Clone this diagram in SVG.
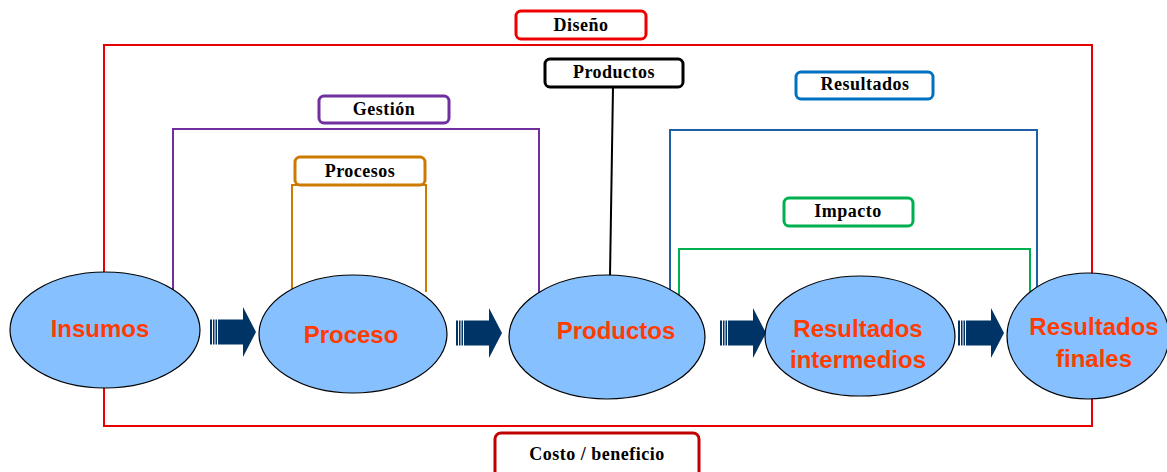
<svg xmlns="http://www.w3.org/2000/svg" width="1167" height="472" viewBox="0 0 1167 472">
  <defs>
    <style>
      .frame { fill: none; stroke-width: 2; }
      .tag { fill: #ffffff; stroke-width: 3; }
      .tag-text { font-family: "Liberation Serif", "Times New Roman", serif; font-weight: bold; font-size: 18px; letter-spacing: 0.5px; fill: #000000; text-anchor: middle; }
      .stage { fill: #86c0ff; stroke: #000000; stroke-width: 1.2; }
      .stage-text { font-family: "Liberation Sans", Arial, sans-serif; font-weight: bold; font-size: 24px; fill: #ff3c00; text-anchor: middle; }
      .flow { fill: #003366; }
    </style>
    <!-- block arrow with striped tail, tip at (46,0) -->
    <g id="blockArrow">
      <rect x="0" y="-12.5" width="2" height="25" class="flow"/>
      <rect x="3" y="-12.5" width="1.5" height="25" class="flow"/>
      <rect x="5.5" y="-12.5" width="1.5" height="25" class="flow"/>
      <polygon points="8,-12.5 33,-12.5 33,-25 46,0 33,25 33,12.5 8,12.5" class="flow"/>
    </g>
  </defs>

  <!-- scope brackets -->
  <g id="connectors">
    <!-- Diseño frame -->
    <rect x="104" y="45" width="988" height="381" class="frame" stroke="#e60000"/>
    <!-- Gestión -->
    <polyline points="173,290 173,129 539,129 539,294" class="frame" stroke="#7030a0"/>
    <!-- Procesos -->
    <polyline points="292,292 292,185 426,185 426,292" class="frame" stroke="#cc7a00"/>
    <!-- Productos -->
    <line x1="613" y1="87" x2="610" y2="276" class="frame" stroke="#000000"/>
    <!-- Resultados -->
    <polyline points="670,290 670,130 1037,130 1037,295" class="frame" stroke="#1f5fa8"/>
    <!-- Impacto -->
    <polyline points="679,297 679,249 1030,249 1030,295" class="frame" stroke="#00b050"/>
    <!-- flow arrows -->
    <use href="#blockArrow" x="210" y="332"/>
    <use href="#blockArrow" x="456" y="333"/>
    <use href="#blockArrow" x="720" y="333"/>
    <use href="#blockArrow" x="958" y="333"/>
  </g>

  <!-- bracket labels -->
  <g id="tag-diseno">
    <rect x="516" y="11" width="130" height="28" rx="5" class="tag" stroke="#ee0000"/>
    <text x="581" y="31" class="tag-text">Diseño</text>
  </g>
  <g id="tag-costo">
    <rect x="495" y="433" width="204" height="45" rx="6" class="tag" stroke="#c00000"/>
    <text x="597" y="460" class="tag-text">Costo / beneficio</text>
  </g>
  <g id="tag-gestion">
    <rect x="319" y="96" width="130" height="27" rx="5" class="tag" stroke="#7030a0"/>
    <text x="384" y="115" class="tag-text">Gestión</text>
  </g>
  <g id="tag-procesos">
    <rect x="295" y="157" width="130" height="28" rx="5" class="tag" stroke="#cc7a00"/>
    <text x="360" y="177" class="tag-text">Procesos</text>
  </g>
  <g id="tag-productos">
    <rect x="545" y="59" width="138" height="28" rx="5" class="tag" stroke="#000000"/>
    <text x="614" y="78" class="tag-text">Productos</text>
  </g>
  <g id="tag-resultados">
    <rect x="796" y="72" width="137" height="27" rx="5" class="tag" stroke="#0070c0"/>
    <text x="865" y="90" class="tag-text">Resultados</text>
  </g>
  <g id="tag-impacto">
    <rect x="784" y="198" width="129" height="28" rx="5" class="tag" stroke="#00b050"/>
    <text x="848" y="217" class="tag-text">Impacto</text>
  </g>

  <!-- chain stages -->
  <g id="stage-insumos">
    <ellipse cx="105" cy="330" rx="95" ry="58" class="stage"/>
    <text x="100" y="337" class="stage-text">Insumos</text>
  </g>
  <g id="stage-proceso">
    <ellipse cx="353" cy="334" rx="94" ry="59" class="stage"/>
    <text x="351" y="343" class="stage-text">Proceso</text>
  </g>
  <g id="stage-productos">
    <ellipse cx="607" cy="337" rx="98" ry="62" class="stage"/>
    <text x="616" y="339" class="stage-text">Productos</text>
  </g>
  <g id="stage-intermedios">
    <ellipse cx="860" cy="336" rx="95" ry="60" class="stage"/>
    <text x="858" y="337" class="stage-text">Resultados</text>
    <text x="858" y="368" class="stage-text">intermedios</text>
  </g>
  <g id="stage-finales">
    <ellipse cx="1088" cy="336" rx="81" ry="63" class="stage"/>
    <text x="1094" y="335" class="stage-text">Resultados</text>
    <text x="1094" y="367" class="stage-text">finales</text>
  </g>
</svg>
